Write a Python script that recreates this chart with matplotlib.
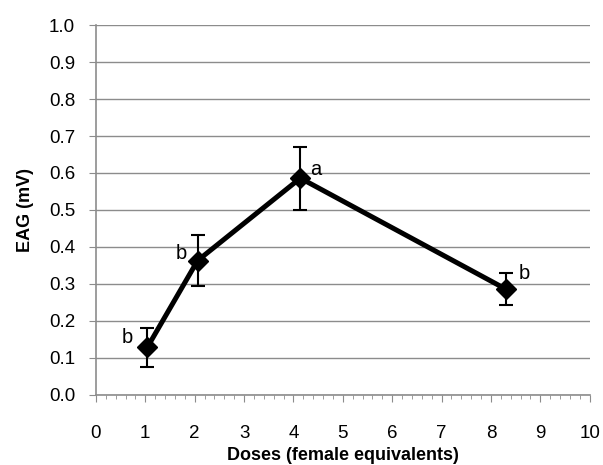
import matplotlib
matplotlib.use("Agg")
import matplotlib.pyplot as plt
from matplotlib.ticker import MultipleLocator

plt.rcParams['font.family'] = ['Liberation Sans', 'DejaVu Sans']

doses = [1.04, 2.06, 4.14, 8.3]
eag = [0.128, 0.363, 0.586, 0.286]
err = [0.052, 0.068, 0.085, 0.043]
letters = ['b', 'b', 'a', 'b']

# label offsets (points) and alignment – styling only
label_style = [(-10, 7, 'right'), (-8, 5, 'right'), (7, 6, 'left'), (9, 11, 'left')]

fig = plt.figure(figsize=(6.03, 4.65), dpi=100)
ax = fig.add_axes([0.159, 0.151, 0.819, 0.795])

ax.errorbar(doses, eag, yerr=err, color='black', lw=3.6, marker='D', ms=10,
            ecolor='black', elinewidth=1.5, capsize=4.8, capthick=1.5, zorder=3)

for x, y, t, (dx, dy, ha) in zip(doses, eag, letters, label_style):
    ax.annotate(t, (x, y), xytext=(dx, dy), textcoords='offset points',
                ha=ha, va='center', fontsize=14.5)

ax.set_xlim(0, 10)
ax.set_ylim(0, 1.0)
ax.xaxis.set_major_locator(MultipleLocator(1))
ax.xaxis.set_minor_locator(MultipleLocator(0.2))
ax.yaxis.set_major_locator(MultipleLocator(0.1))
ax.yaxis.set_major_formatter(matplotlib.ticker.FormatStrFormatter('%.1f'))
ax.grid(axis='y', color='#8c8c8c', lw=1)
ax.set_axisbelow(True)
for s in ['top', 'right']:
    ax.spines[s].set_visible(False)
for s in ['left', 'bottom']:
    ax.spines[s].set_color('#8c8c8c')
    ax.spines[s].set_linewidth(1.2)
ax.tick_params(axis='both', which='major', color='#8c8c8c', length=5, labelsize=13.5, pad=10)
ax.tick_params(axis='x', which='minor', color='#8c8c8c', length=3)
ax.tick_params(axis='x', which='major', pad=17)

ax.set_xlabel('Doses (female equivalents)', fontsize=13, fontweight='bold', labelpad=3)
ax.set_ylabel('EAG (mV)', fontsize=13, fontweight='bold', labelpad=11)

fig.savefig('out.png', dpi=100)
